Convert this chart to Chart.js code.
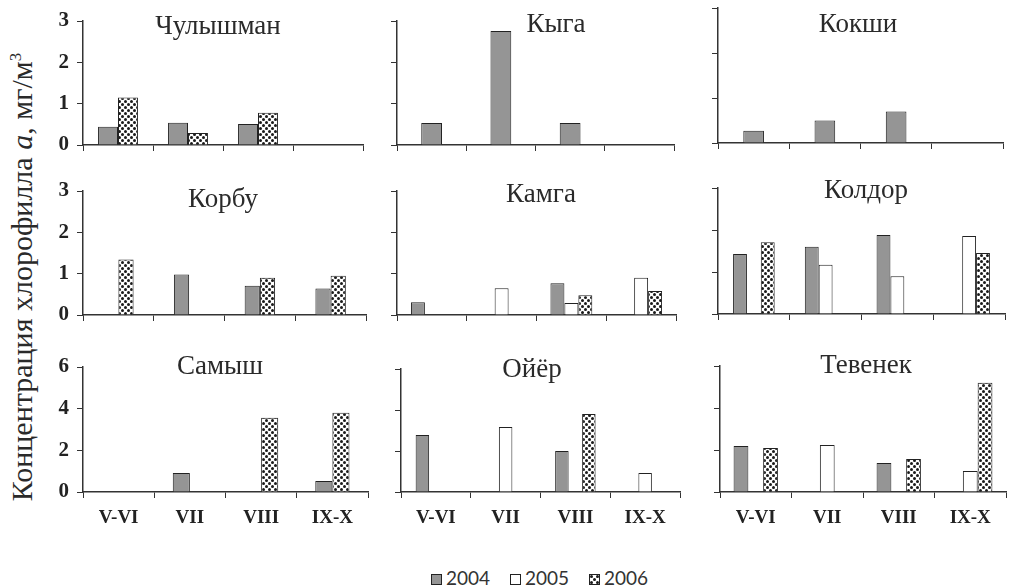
<!DOCTYPE html>
<html>
<head>
<meta charset="utf-8">
<script src="https://cdn.jsdelivr.net/npm/chart.js@4.4.1/dist/chart.umd.min.js"></script>
<style>
    body { margin: 0; background: #fff; }
    #wrap { position: relative; width: 1016px; height: 586px; overflow: hidden; }
    #wrap canvas { position: absolute; }
    .title { position: absolute; font: 27px "Liberation Serif", serif; line-height: 27px; color: #2a2a2a; transform: translateX(-50%); white-space: nowrap; }
    #ytitle { position: absolute; left: 22px; top: 277px; transform: translate(-50%, -50%) rotate(-90deg); font: 30px "Liberation Serif", serif; color: #2a2a2a; white-space: nowrap; }
    #legend { position: absolute; left: 431px; top: 566px; font: 19px Lato, sans-serif; color: #333; white-space: nowrap; }
    #legend span.sw { display: inline-block; width: 9px; height: 9px; border: 1px solid #222; vertical-align: 0px; margin-right: 4px; }
    #legend span.item { margin-right: 15px; }
</style>
</head>
<body>
<div id="wrap">
    <div id="ytitle">Концентрация хлорофилла <i>a</i>, мг/м<sup style="font-size:17px">3</sup></div>
    <div id="legend">
        <span class="item"><span class="sw" style="background:#959595"></span>2004</span>
        <span class="item"><span class="sw" style="background:#fff"></span>2005</span>
        <span class="item"><span class="sw" id="sw2006"></span>2006</span>
    </div>
</div>
<script>
// months on the x axis
const months = ['V-VI', 'VII', 'VIII', 'IX-X'];

// chlorophyll a, mg/m3
const chulyshman2004 = [0.44, 0.54, 0.51, null];
const chulyshman2006 = [1.15, 0.29, 0.78, null];
const kyga2004 = [0.53, 2.76, 0.53, null];
const kokshi2004 = [0.27, 0.5, 0.7, null];
const korbu2004 = [null, 0.98, 0.71, 0.64];
const korbu2006 = [1.34, null, 0.9, 0.95];
const kamga2004 = [0.31, null, 0.77, null];
const kamga2005 = [null, 0.65, 0.29, 0.9];
const kamga2006 = [null, null, 0.48, 0.58];
const koldor2004 = [1.43, 1.6, 1.88, null];
const koldor2005 = [null, 1.17, 0.9, 1.86];
const koldor2006 = [1.71, null, null, 1.45];
const samysh2004 = [null, 0.91, null, 0.53];
const samysh2006 = [null, null, 3.56, 3.8];
const oyer2004 = [2.78, null, 2.0, null];
const oyer2005 = [null, 3.17, null, 0.93];
const oyer2006 = [null, null, 3.8, null];
const tevenek2004 = [2.19, null, 1.38, null];
const tevenek2005 = [null, 2.24, null, 1.0];
const tevenek2006 = [2.1, null, 1.57, 5.2];

// dotted fill for 2006
function makeDots() {
    const c = document.createElement('canvas');
    c.width = 6; c.height = 6;
    const g = c.getContext('2d');
    g.fillStyle = '#fff';
    g.fillRect(0, 0, 6, 6);
    g.fillStyle = '#1a1a1a';
    g.beginPath(); g.arc(1.5, 1.5, 1.5, 0, Math.PI * 2); g.fill();
    g.beginPath(); g.arc(4.5, 4.5, 1.5, 0, Math.PI * 2); g.fill();
    return c;
}
const dotCanvas = makeDots();
const dots = dotCanvas.getContext('2d').createPattern(dotCanvas, 'repeat');
document.getElementById('sw2006').style.background = 'url(' + dotCanvas.toDataURL() + ')';

const fills = { '2004': '#959595', '2005': '#ffffff', '2006': dots };

// name, series, y max, step, category percentage
const panels = [
    ['Чулышман', { '2004': chulyshman2004, '2006': chulyshman2006 }, 3, 1, 0.57],
    ['Кыга', { '2004': kyga2004 }, 3, 1, 0.3],
    ['Кокши', { '2004': kokshi2004 }, 3, 1, 0.29],
    ['Корбу', { '2004': korbu2004, '2006': korbu2006 }, 3, 1, 0.43],
    ['Камга', { '2004': kamga2004, '2005': kamga2005, '2006': kamga2006 }, 3, 1, 0.6],
    ['Колдор', { '2004': koldor2004, '2005': koldor2005, '2006': koldor2006 }, 3, 1, 0.58],
    ['Самыш', { '2004': samysh2004, '2006': samysh2006 }, 6, 2, 0.48],
    ['Ойёр', { '2004': oyer2004, '2005': oyer2005, '2006': oyer2006 }, 6, 2, 0.58],
    ['Тевенек', { '2004': tevenek2004, '2005': tevenek2005, '2006': tevenek2006 }, 6, 2, 0.62]
];

// plot box of each panel: left, right, top, bottom(zero), title x, title baseline
const boxes = [
    [83, 363, 21, 145, 218, 34],
    [397, 674, 21, 145, 556, 32],
    [718, 1003, 8, 143, 858, 32],
    [83, 366, 191, 315, 223, 207],
    [397, 676, 191, 315, 541, 202],
    [718, 1005, 188, 314, 866, 198],
    [83, 368, 367, 492, 220, 374],
    [401, 680, 369, 492, 532, 377],
    [720, 1006, 366, 492, 866, 373]
];

const wrap = document.getElementById('wrap');

panels.forEach((p, i) => {
    const [name, series, yMax, step, catPct] = p;
    const [x0, x1, y0, y1, tx, tb] = boxes[i];
    const firstCol = i % 3 === 0;
    const lastRow = i >= 6;
    const yW = firstCol ? 70 : 20;
    // tick labels on the y axis need room above and below the plot
    const xH = lastRow ? 42 : (firstCol ? 26 : 12);
    const padTop = firstCol ? 26 : 12, padRight = 4;

    const cv = document.createElement('canvas');
    const left = x0 - yW, top = y0 - padTop;
    cv.width = x1 - left + padRight;
    cv.height = y1 - top + xH;
    cv.style.left = left + 'px';
    cv.style.top = top + 'px';
    wrap.appendChild(cv);

    const t = document.createElement('div');
    t.className = 'title';
    t.textContent = name;
    t.style.left = tx + 'px';
    t.style.top = (tb - 22) + 'px';
    wrap.appendChild(t);

    const datasets = Object.keys(series).map(y => ({
        label: y,
        data: series[y],
        backgroundColor: fills[y],
        borderColor: '#222',
        borderWidth: 1,
        borderSkipped: 'bottom'
    }));

    new Chart(cv, {
        type: 'bar',
        data: { labels: months, datasets: datasets },
        options: {
            responsive: false,
            animation: false,
            devicePixelRatio: 1,
            layout: { padding: { top: padTop, right: padRight, left: 0, bottom: 0 } },
            plugins: { legend: { display: false }, tooltip: { enabled: false } },
            datasets: { bar: { barPercentage: 1, categoryPercentage: catPct } },
            scales: {
                x: {
                    offset: true,
                    grid: { offset: true, drawOnChartArea: false, drawTicks: true, tickLength: 6, color: '#333' },
                    border: { display: true, color: '#333', width: 1.5 },
                    ticks: {
                        display: lastRow,
                        color: '#222',
                        padding: 9,
                        maxRotation: 0,
                        font: { family: 'Liberation Serif', size: 19, weight: 'bold' }
                    },
                    afterFit: s => { s.height = xH; }
                },
                y: {
                    min: 0,
                    max: yMax,
                    grid: { drawOnChartArea: false, drawTicks: true, tickLength: 6, color: '#333' },
                    border: { display: true, color: '#333', width: 1.5 },
                    ticks: {
                        display: firstCol,
                        stepSize: step,
                        color: '#222',
                        padding: 8,
                        font: { family: 'Liberation Serif', size: 21, weight: 'bold' }
                    },
                    afterFit: s => { s.width = yW; }
                }
            }
        }
    });
});
</script>
</body>
</html>
